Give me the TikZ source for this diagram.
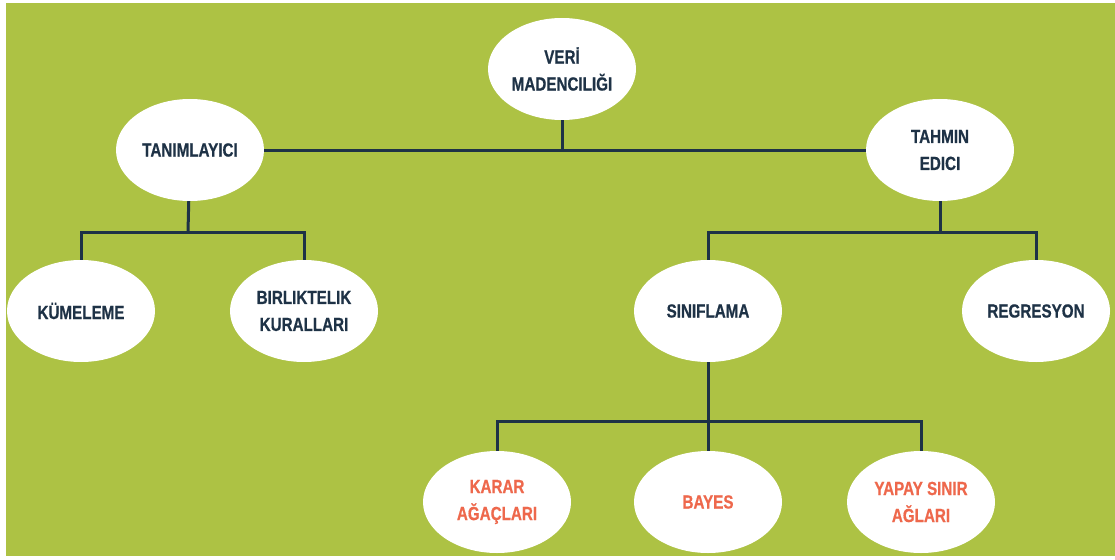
\documentclass[tikz,border=0pt]{standalone}
\usepackage{fontspec}
\setmainfont{Liberation Sans}[FakeStretch=0.8,BoldFeatures={FakeStretch=0.8,FakeBold=0.6}]
\definecolor{bggreen}{RGB}{173,194,68}
\definecolor{navy}{RGB}{30,50,70}
\definecolor{coral}{RGB}{238,104,76}
\tikzset{
  oval/.style={ellipse, fill=white, minimum width=148pt, minimum height=102pt,
    align=center, font=\fontsize{19}{27}\selectfont\bfseries, text=navy, inner sep=0pt},
  leaf/.style={oval, text=coral},
  link/.style={draw=navy, line width=3pt}
}
\usetikzlibrary{shapes.geometric}
\begin{document}
\begin{tikzpicture}[x=1pt,y=-1pt]
      \useasboundingbox (0,0) rectangle (1115,559);
      \fill[bggreen] (6,3) rectangle (1115,556);
      \draw
        (562,69) node[oval] (veri){VERİ\\MADENCILIĞI}
        (190,150) node[oval] (tanim){TANIMLAYICI}
        (940,150) node[oval] (tahmin){TAHMIN\\EDICI}
        (81,311) node[oval] (kume){KÜMELEME}
        (304,311) node[oval] (birlik){BIRLIKTELIK\\KURALLARI}
        (708,311) node[oval] (sinif){SINIFLAMA}
        (1036,311) node[oval] (regr){REGRESYON}
        (497,502) node[leaf] (karar){KARAR\\AĞAÇLARI}
        (708,502) node[leaf] (bayes){BAYES}
        (921,502) node[leaf] (yapay){YAPAY SINIR\\AĞLARI};
      \coordinate (j1) at (188,232);
      \coordinate (j2) at (940,232);
      \coordinate (j3) at (708,421);
      \begin{scope}[link]
        \draw (tanim) -- (tahmin);
        \draw (veri) -- (veri |- tanim);
        \draw (tanim) -- (j1);
        \draw (kume) |- (j1) -| (birlik);
        \draw (tahmin) -- (j2);
        \draw (sinif) |- (j2) -| (regr);
        \draw (sinif) -- (bayes);
        \draw (karar) |- (j3) -| (yapay);
      \end{scope}
    \end{tikzpicture}
\end{document}
